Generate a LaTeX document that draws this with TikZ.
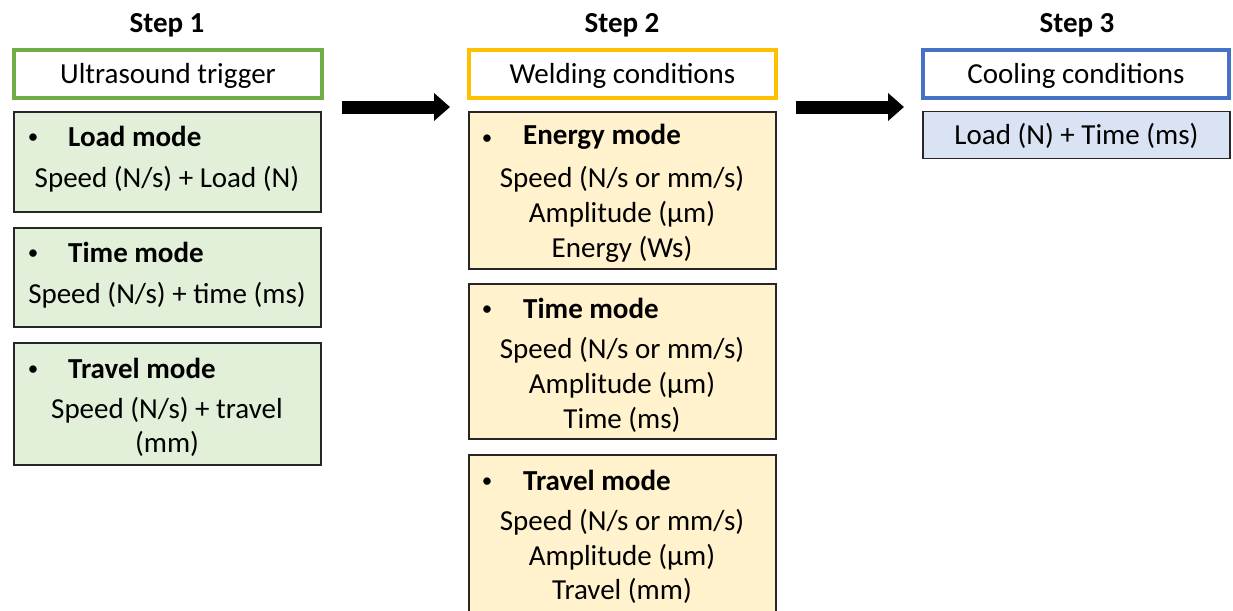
\documentclass[tikz,border=0pt]{standalone}
\usepackage{fontspec}
\setmainfont{Carlito}
\usetikzlibrary{arrows.meta}
\definecolor{gline}{HTML}{70AD47}
\definecolor{gfill}{HTML}{E2F0D9}
\definecolor{oline}{HTML}{FFC000}
\definecolor{ofill}{HTML}{FFF2CC}
\definecolor{bline}{HTML}{4472C4}
\definecolor{bfill}{HTML}{DAE3F3}
\begin{document}
\begin{tikzpicture}[x=1pt,y=-1pt,
  txt/.style={inner sep=0pt,font=\fontsize{29}{34}\selectfont},
  bld/.style={inner sep=0pt,font=\fontsize{29}{34}\selectfont\bfseries},
  bul/.style={inner sep=0pt,font=\fontsize{21}{22}\selectfont},
  hdr/.style={draw=#1,line width=4pt,fill=white,inner sep=0pt,minimum height=48pt},
  cbox/.style={draw=black!85,line width=1.5pt,fill=#1,inner sep=0pt,minimum width=307pt},
  bigarrow/.style={line width=13pt,-{Triangle[length=16pt,width=27pt]}}]
\useasboundingbox (0,0) rectangle (1233,610);

% Step titles
\node[bld] (s1) at (167,25) {Step 1};
\node[bld] (s2) at (622,25) {Step 2};
\node[bld] (s3) at (1077,25) {Step 3};

% Header boxes
\node[hdr=gline,minimum width=308pt] (trig) at (168,74) {};
\node[hdr=oline,minimum width=307pt] (weld) at (622.5,74) {};
\node[hdr=bline,minimum width=306pt] (cool) at (1076,74) {};
\node[txt] (trigt) at (168,76) {Ultrasound trigger};
\node[txt] (weldt) at (622.5,76) {Welding conditions};
\node[txt] (coolt) at (1076,76) {Cooling conditions};

% Arrows
\coordinate (a1s) at (342,107);
\coordinate (a1e) at (450,107);
\coordinate (a2s) at (796,107);
\coordinate (a2e) at (904,107);
\draw[bigarrow] (a1s) -- (a1e);
\draw[bigarrow] (a2s) -- (a2e);

% Step 1 content
\node[cbox=gfill,minimum height=100pt] (load) at (167.5,162) {};
\node[bul] (loadb) at (33,139) {•};
\node[bld,anchor=west] (loadt) at (68,136) {Load mode};
\node[txt] (loadl1) at (167,179) {Speed (N/s) + Load (N)};

\node[cbox=gfill,minimum height=99pt] (time1) at (167.5,277.5) {};
\node[bul] (time1b) at (33,255) {•};
\node[bld,anchor=west] (time1t) at (68,252) {Time mode};
\node[txt] (time1l1) at (167,295) {Speed (N/s) + time (ms)};

\node[cbox=gfill,minimum height=122pt] (trav1) at (167.5,404) {};
\node[bul] (trav1b) at (33,371) {•};
\node[bld,anchor=west] (trav1t) at (68,368) {Travel mode};
\node[txt] (trav1l1) at (167,410) {Speed (N/s) + travel};
\node[txt] (trav1l2) at (167,444) {(mm)};

% Step 2 content
\node[cbox=ofill,minimum height=157pt] (ener) at (622.5,190.5) {};
\node[bul] (enerb) at (487,140) {•};
\node[bld,anchor=west] (enert) at (523,137) {Energy mode};
\node[txt] (enerl1) at (622,179) {Speed (N/s or mm/s)};
\node[txt] (enerl2) at (622,214) {Amplitude (µm)};
\node[txt] (enerl3) at (622,249) {Energy (Ws)};

\node[cbox=ofill,minimum height=155pt] (time2) at (622.5,361.5) {};
\node[bul] (time2b) at (487,311) {•};
\node[bld,anchor=west] (time2t) at (523,308) {Time mode};
\node[txt] (time2l1) at (622,350) {Speed (N/s or mm/s)};
\node[txt] (time2l2) at (622,385) {Amplitude (µm)};
\node[txt] (time2l3) at (622,420) {Time (ms)};

\node[cbox=ofill,minimum height=159pt] (trav2) at (622.5,534.5) {};
\node[bul] (trav2b) at (487,483) {•};
\node[bld,anchor=west] (trav2t) at (523,480) {Travel mode};
\node[txt] (trav2l1) at (622,522) {Speed (N/s or mm/s)};
\node[txt] (trav2l2) at (622,557) {Amplitude (µm)};
\node[txt] (trav2l3) at (622,591) {Travel (mm)};

% Step 3 content
\node[cbox=bfill,minimum height=47pt] (coolc) at (1076.5,135) {};
\node[txt] (coolcl) at (1076.5,136) {Load (N) + Time (ms)};
\end{tikzpicture}
\end{document}
